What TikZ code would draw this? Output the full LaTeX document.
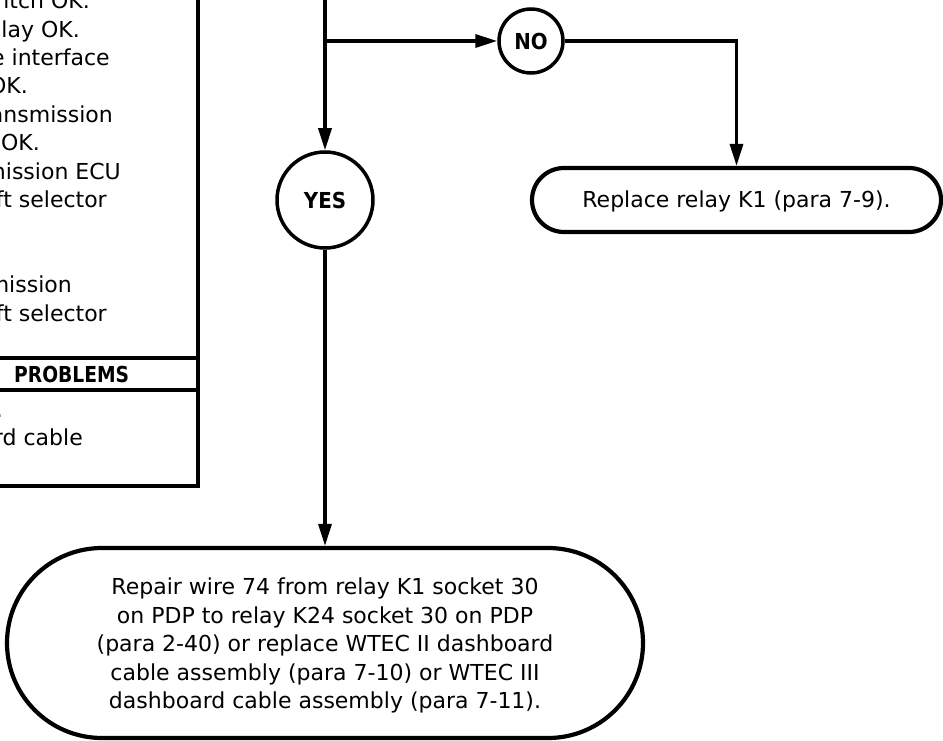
\documentclass[tikz,border=0pt]{standalone}
\usepackage{fontspec}
\setmainfont{DejaVu Sans}
\usepackage{graphicx}
\usetikzlibrary{arrows.meta}
\tikzset{
  conn/.style={line width=3.3pt, -{Triangle[length=22pt,width=13pt]}},
  circ/.style={circle, draw, line width=3.5pt, inner sep=0pt},
  endbox/.style={draw, line width=4.2pt, rectangle, align=center, inner sep=0pt},
  frame/.style={line width=4.2pt},
  frag/.style={anchor=base east},
}
\begin{document}
\begin{tikzpicture}[x=1pt,y=-1pt,
  every node/.style={font=\fontsize{22}{28.4}\selectfont, inner sep=0pt}]
\useasboundingbox (0,0) rectangle (943,741);
\begin{scope}
\clip (0,0) rectangle (943,741);
% left box (cut off by the picture edge)
\draw[frame] (-20,-20) rectangle (198,486);
\draw[frame] (-20,358) -- (198,358);
\draw[frame] (-20,390) -- (198,390);
\node[frag] (t1) at (90,9) {itch OK.};
\node[frag] (t2) at (80,37.5) {lay OK.};
\node[frag] (t3) at (110,66) {e interface};
\node[frag] (t4) at (28,94) {OK.};
\node[frag] (t5) at (113,122.5) {ansmission};
\node[frag] (t6) at (40,151) {OK.};
\node[frag] (t7) at (121,179) {nission ECU};
\node[frag] (t8) at (107,207.5) {ft selector};
\node[frag] (t9) at (72,292.5) {mission};
\node[frag] (t10) at (107,321) {ft selector};
\node[anchor=base west] (hdr) at (14,382) {\scalebox{0.85}[1]{\bfseries PROBLEMS}};
\node[frag] (t11) at (3,417) {.};
\node[frag] (t12) at (83,445) {rd cable};
% flow
\coordinate (top) at (325,-10);
\coordinate (br) at (325,41);
\node[circ, minimum size=96pt] (yes) at (325,200) {\scalebox{0.9}[1]{\bfseries YES}};
\node[circ, minimum size=64pt] (no) at (531,41) {\scalebox{0.9}[1]{\bfseries NO}};
\node[endbox, rounded corners=32pt, minimum width=409pt, minimum height=64pt] (rep) at (736.5,200) {\rule{0pt}{19pt}Replace relay K1 (para 7-9).};
\node[endbox, rounded corners=95pt, minimum width=636pt, minimum height=190pt] (big) at (325,643)
  {\rule{0pt}{22pt}Repair wire 74 from relay K1 socket 30\\
   on PDP to relay K24 socket 30 on PDP\\
   (para 2-40) or replace WTEC II dashboard\\
   cable assembly (para 7-10) or WTEC III\\
   dashboard cable assembly (para 7-11).};
\draw[conn] (top) -- (yes.north);
\draw[conn] (br) -- (no.west);
\draw[conn] (no.east) -| (rep.north);
\draw[conn] (yes.south) -- (big.north);
\end{scope}
\end{tikzpicture}
\end{document}
